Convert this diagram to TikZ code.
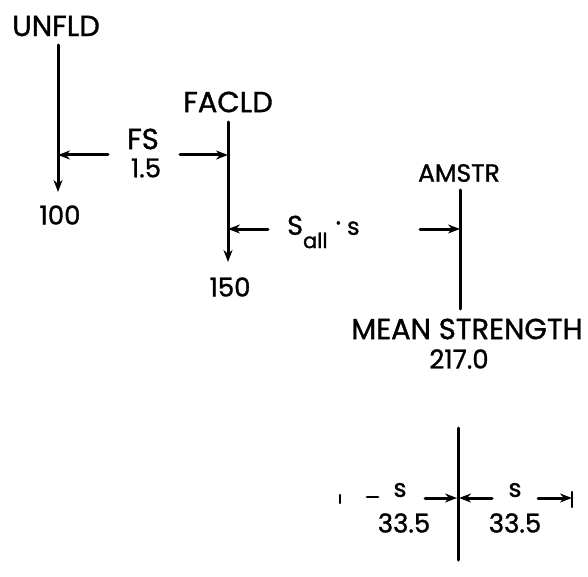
\documentclass[tikz,border=0pt]{standalone}
\usepackage{fontspec}
\setmainfont{Poppins}[UprightFeatures={FakeBold=1.2}]
\usetikzlibrary{arrows.meta}

\begin{document}
\begin{tikzpicture}[x=1pt, y=-1pt, >=Stealth, line cap=round, line join=round,
  lbl/.style={inner sep=0pt, font=\fontsize{29}{32}\selectfont},
  num/.style={inner sep=0pt, font=\fontsize{26}{30}\selectfont},
  sml/.style={inner sep=0pt, font=\fontsize{25}{28}\selectfont},
  ln/.style={line width=3pt},
  dim/.style={line width=3pt, -{Stealth[length=12pt,width=9pt]}}]
\useasboundingbox (0,0) rectangle (588,577);

% Carico non fattorizzato
\node[lbl] (unfld) at (56,26) {UNFLD};
\coordinate (u1) at (58,45);
\coordinate (u2) at (58,192);
\coordinate (u3) at (58,155);
\draw[dim] (u1) -- (u2);
\node[num] (c100) at (60,215) {100};

% Fattore di sicurezza
\node[lbl] (fs) at (143,139) {FS};
\node[num] (fsv) at (146,168) {1.5};
\coordinate (fsl) at (108,155);
\coordinate (fsr) at (180,155);
\coordinate (f3) at (228,155);
\draw[dim] (fsl) -- (u3);
\draw[dim] (fsr) -- (f3);

% Carico fattorizzato
\node[lbl] (facld) at (228,102) {FACLD};
\coordinate (f1) at (228,122);
\coordinate (f2) at (228,262);
\coordinate (f4) at (228,229);
\draw[dim] (f1) -- (f2);
\node[num] (c150) at (230,287) {150};

% Margine
\node[inner sep=0pt, anchor=west, font=\fontsize{27}{30}\selectfont] (sall) at (287,232)
  {S\raisebox{-0.9ex}{\fontsize{21}{24}\selectfont all}\hspace{8pt}\raisebox{0.2ex}{\fontsize{26}{28}\selectfont ·}\hspace{6pt}{\fontsize{24}{26}\selectfont s}};
\coordinate (sl) at (268,229);
\coordinate (sr) at (420,229);
\coordinate (a3) at (460,229);
\draw[dim] (sl) -- (f4);
\draw[dim] (sr) -- (a3);

% Resistenza
\node[inner sep=0pt, font=\fontsize{25}{28}\selectfont] (amstr) at (459,173) {AMSTR};
\coordinate (a1) at (460,190);
\coordinate (a2) at (460,309);
\draw[ln] (a1) -- (a2);
\node[lbl] (mean) at (467,329) {MEAN STRENGTH};
\node[num] (mval) at (459,359) {217.0};

% Scarto
\coordinate (b1) at (458,428);
\coordinate (b2) at (458,560);
\coordinate (b0) at (458,498);
\draw[ln] (b1) -- (b2);
\coordinate (tl) at (340,499);
\draw[line width=2.4pt] ([yshift=-4]tl) -- ([yshift=4]tl);
\coordinate (dl1) at (367,497);
\coordinate (dl2) at (378,497);
\draw[line width=2.8pt] (dl1) -- (dl2);
\coordinate (bl) at (425,498);
\coordinate (br) at (492,498);
\draw[dim] (bl) -- ([xshift=-1]b0);
\draw[dim] (br) -- ([xshift=1]b0);
\coordinate (cr1) at (538,498);
\coordinate (cr2) at (572,498);
\draw[dim] (cr1) -- (cr2);
\draw[line width=2.4pt] ([yshift=-9]cr2) -- ([yshift=6]cr2);
\node[sml] (sl1) at (400,490) {s};
\node[sml] (sr1) at (515,490) {s};
\node[num] (dv1) at (404,523) {33.5};
\node[num] (dv2) at (515,523) {33.5};

\end{tikzpicture}
\end{document}
